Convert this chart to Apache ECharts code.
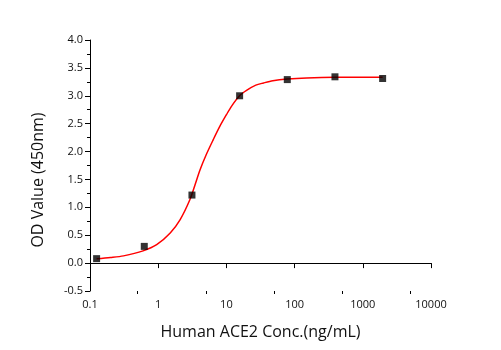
<!DOCTYPE html>
<html><head><meta charset="utf-8">
<script src="https://cdn.jsdelivr.net/npm/echarts@6/dist/echarts.min.js"></script>
<style>html,body{margin:0;padding:0;background:#fff}#c{width:501px;height:350px}</style>
</head><body><div id="c"></div>
<script>
const concX = [0.125, 0.625, 3.125, 15.625, 78.125, 390.625, 1953.125];
const odY = [0.08, 0.30, 1.22, 3.00, 3.29, 3.34, 3.31];
const fitX = [0.125, 0.2, 0.31, 0.6, 0.95, 1.5, 2.1, 2.9, 3.5, 4.1, 5, 6.4, 8, 10, 12, 15.6, 20, 27, 35, 48, 78, 150, 390, 1000, 1953];
const fitY = [0.077, 0.10, 0.13, 0.22, 0.33, 0.54, 0.78, 1.13, 1.42, 1.67, 1.93, 2.21, 2.45, 2.66, 2.82, 3.0, 3.10, 3.19, 3.23, 3.27, 3.30, 3.32, 3.33, 3.33, 3.33];
const xMajor = [0.1, 1, 10, 100, 1000, 10000];
const xMinor = [0.5, 5, 50, 500, 5000];
const font = '"Open Sans", sans-serif';
const chart = echarts.init(document.getElementById('c'));
chart.setOption({
  animation: false,
  grid: {left: 90, right: 70, top: 40, bottom: 59},
  graphic: [{
    type: 'text', x: 38, y: 180, rotation: Math.PI / 2,
    style: {text: 'OD Value (450nm)', fontFamily: font, fontSize: 16, fill: '#111', align: 'center', verticalAlign: 'middle'}
  }],
  xAxis: [{
    type: 'log', logBase: 10, min: 0.1, max: 10000, position: 'bottom',
    name: 'Human ACE2 Conc.(ng/mL)', nameLocation: 'middle', nameGap: 33,
    nameTextStyle: {fontFamily: font, fontSize: 16, color: '#111'},
    axisLine: {show: true, lineStyle: {color: '#000', width: 1}},
    axisTick: {show: true, inside: false, length: 5, lineStyle: {color: '#000'}, customValues: xMajor},
    axisLabel: {fontFamily: font, fontSize: 11, color: '#111', margin: 8, customValues: xMajor,
      formatter: v => String(v)},
    splitLine: {show: false}
  }, {
    type: 'log', logBase: 10, min: 0.1, max: 10000, position: 'bottom', offset: 0,
    axisLine: {show: false},
    axisTick: {show: true, inside: false, length: 3, lineStyle: {color: '#000'}, customValues: xMinor},
    axisLabel: {show: false},
    splitLine: {show: false}
  }],
  yAxis: {
    type: 'value', min: -0.5, max: 4.0, interval: 0.5,
    axisLine: {show: true, lineStyle: {color: '#000', width: 1}},
    axisTick: {show: true, inside: false, length: 5, lineStyle: {color: '#000'}},
    minorTick: {show: true, splitNumber: 2, length: 3, lineStyle: {color: '#000'}},
    axisLabel: {fontFamily: font, fontSize: 11, color: '#111', margin: 7, formatter: v => v.toFixed(1)},
    splitLine: {show: false}
  },
  series: [{
    type: 'line', xAxisIndex: 0, data: fitX.map((x, i) => [x, fitY[i]]),
    smooth: 0.3, showSymbol: false, lineStyle: {color: '#ff0000', width: 1.5}, z: 2
  }, {
    type: 'scatter', xAxisIndex: 0, data: concX.map((x, i) => [x, odY[i]]),
    symbol: 'rect', symbolSize: 7, itemStyle: {color: '#000'}, z: 3
  }]
});
</script></body></html>
